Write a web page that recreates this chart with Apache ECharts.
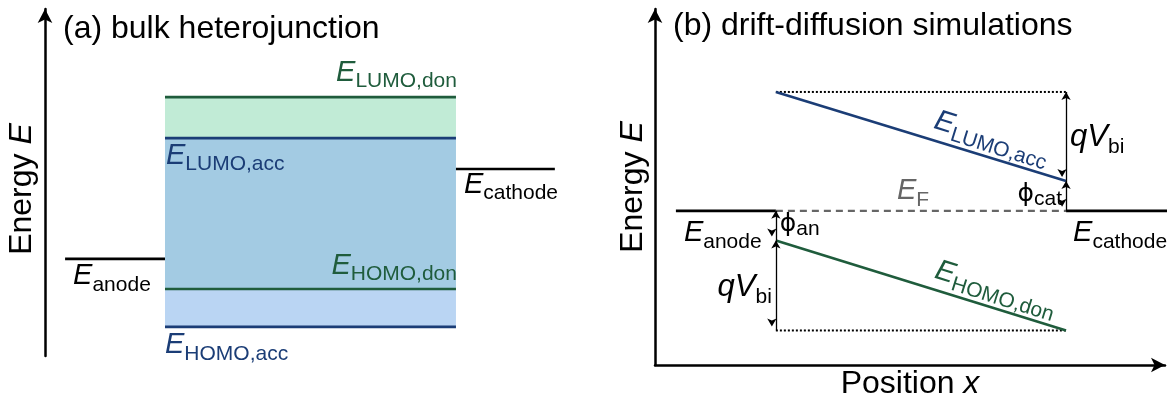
<!DOCTYPE html>
<html><head><meta charset="utf-8">
<script src="https://cdn.jsdelivr.net/npm/echarts@6/dist/echarts.min.js"></script>
<style>html,body{margin:0;padding:0;background:#fff}#c{width:1172px;height:405px}</style>
</head><body><div id="c"></div>
<script>
// ---------- Panel (a): bulk heterojunction (arbitrary energy units) ----------
const aLevelNames = ['LUMO,don', 'LUMO,acc', 'HOMO,don', 'HOMO,acc'];
const aLevelE = [7.46, 6.28, 1.93, 0.84];
const aBulkX = [2.33, 7.98];
const aAnodeX = [0.39, 2.33];
const aAnodeE = 2.80;
const aCathodeX = [7.98, 9.90];
const aCathodeE = 5.39;

// ---------- Panel (b): drift-diffusion simulations ----------
const bAnodeX = [0.41, 2.37];
const bDeviceX = [2.37, 8.06];
const bCathodeX = [8.06, 10.06];
const bFermiE = 4.33;
const bLumoE = [7.67, 5.17];
const bHomoE = [3.50, 0.97];

// label anchor points (panel b, along sloped bands)
const bLumoLabelAt = [6.49, 5.86];
const bHomoLabelAt = [6.57, 1.63];
const bFermiLabelX = 5.06;

const FONT = '"Liberation Sans", Arial, sans-serif';
const GREEN = '#1f5c3c', BLUE = '#1b3d76';
const FILL_GREEN = '#c1ebd6', FILL_BLUE = '#a3cbe3', FILL_LBLUE = '#bad5f3';

function seg(g, xs, ys, color, width, type) {
  return { type: 'line', xAxisIndex: g, yAxisIndex: g, data: [[xs[0], ys[0]], [xs[1], ys[1]]],
    symbol: 'none', showSymbol: false, clip: false, silent: true, animation: false, z: 3,
    lineStyle: { color, width, type: type || 'solid', cap: 'butt' } };
}
const rich = {
  e: { fontSize: 29, fontStyle: 'italic', fontFamily: FONT, verticalAlign: 'bottom', padding: [0, 0, 5, 0], textBorderWidth: 0 },
  q: { fontSize: 31, fontStyle: 'italic', fontFamily: FONT, verticalAlign: 'bottom', padding: [0, 0, 5, 0], textBorderWidth: 0 },
  s: { fontSize: 21, fontFamily: FONT, verticalAlign: 'bottom', textBorderWidth: 0 },
  p: { fontSize: 25, fontFamily: 'DejaVu Sans, ' + FONT, verticalAlign: 'bottom', padding: [0, 0, 3, 0], textBorderWidth: 0 }
};
function lab(x, y, text, color, align, vAlign, offset, rotate) {
  return { value: [x, y], label: { show: true, position: 'inside', formatter: text, color,
    textBorderWidth: 0, textBorderColor: 'transparent', opacity: 1,
    align, verticalAlign: vAlign, offset, rotate: rotate || 0, rich } };
}
function labels(g, items) {
  return { type: 'scatter', xAxisIndex: g, yAxisIndex: g, symbolSize: 0, silent: true,
    animation: false, clip: false, z: 5, data: items,
    itemStyle: { opacity: 1 },
    label: { show: true, fontFamily: FONT, textBorderWidth: 0, rich } };
}
const E = n => '{e|E}{s|' + n + '}';

const axisArrow = (show) => ({ show, onZero: false, symbol: ['none', 'arrow'], symbolSize: [11, 14],
  lineStyle: { color: '#000', width: 2.5 } });
const nameStyle = { fontSize: 32, color: '#000', fontFamily: FONT,
  rich: { n: { fontSize: 32, fontFamily: FONT }, i: { fontSize: 32, fontStyle: 'italic', fontFamily: FONT } } };

const option = {
  animation: false,
  backgroundColor: '#fff',
  title: [
    { text: '(a) bulk heterojunction', left: 58, top: 8, textStyle: { fontSize: 32, fontWeight: 'normal', color: '#000', fontFamily: FONT } },
    { text: '(b) drift-diffusion simulations', left: 668, top: 5, textStyle: { fontSize: 32, fontWeight: 'normal', color: '#000', fontFamily: FONT } }
  ],
  grid: [
    { left: 45, top: 9, width: 515, height: 347 },
    { left: 655, top: 9, width: 510, height: 360 }
  ],
  xAxis: [
    { gridIndex: 0, type: 'value', min: 0, max: 10, show: false },
    { gridIndex: 1, type: 'value', min: 0, max: 10, axisLine: axisArrow(true), axisTick: { show: false },
      axisLabel: { show: false }, splitLine: { show: false },
      name: '{n|Position }{i|x}', nameLocation: 'middle', nameGap: 3, nameTextStyle: nameStyle }
  ],
  yAxis: [
    { gridIndex: 0, type: 'value', min: 0, max: 10, axisLine: axisArrow(true), axisTick: { show: false },
      axisLabel: { show: false }, splitLine: { show: false },
      name: '{n|Energy }{i|E}', nameLocation: 'middle', nameGap: 7, nameRotate: 90,
      nameTextStyle: Object.assign({}, nameStyle, { padding: [0, 13, 0, 0] }) },
    { gridIndex: 1, type: 'value', min: 0, max: 10, axisLine: axisArrow(true), axisTick: { show: false },
      axisLabel: { show: false }, splitLine: { show: false },
      name: '{n|Energy }{i|E}', nameLocation: 'middle', nameGap: 6, nameRotate: 90, nameTextStyle: nameStyle }
  ],
  series: [
    // panel (a) band fills
    { type: 'line', xAxisIndex: 0, yAxisIndex: 0, data: [[aBulkX[0], aLevelE[0]]], symbol: 'none', silent: true, z: 1,
      lineStyle: { opacity: 0 },
      markArea: { silent: true, data: [
        [{ xAxis: aBulkX[0], yAxis: aLevelE[0], itemStyle: { color: FILL_GREEN } }, { xAxis: aBulkX[1], yAxis: aLevelE[1] }],
        [{ xAxis: aBulkX[0], yAxis: aLevelE[1], itemStyle: { color: FILL_BLUE } }, { xAxis: aBulkX[1], yAxis: aLevelE[2] }],
        [{ xAxis: aBulkX[0], yAxis: aLevelE[2], itemStyle: { color: FILL_LBLUE } }, { xAxis: aBulkX[1], yAxis: aLevelE[3] }]
      ] } },
    seg(0, aBulkX, [aLevelE[0], aLevelE[0]], GREEN, 2.6),
    seg(0, aBulkX, [aLevelE[1], aLevelE[1]], BLUE, 2.6),
    seg(0, aBulkX, [aLevelE[2], aLevelE[2]], GREEN, 2.6),
    seg(0, aBulkX, [aLevelE[3], aLevelE[3]], BLUE, 2.6),
    seg(0, aAnodeX, [aAnodeE, aAnodeE], '#000', 2.6),
    seg(0, aCathodeX, [aCathodeE, aCathodeE], '#000', 2.6),
    labels(0, [
      lab(aBulkX[1], aLevelE[0], E(aLevelNames[0]), GREEN, 'right', 'bottom', [1, -5]),
      lab(aBulkX[0], aLevelE[1], E(aLevelNames[1]), BLUE, 'left', 'top', [1, 3]),
      lab(aBulkX[1], aLevelE[2], E(aLevelNames[2]), GREEN, 'right', 'bottom', [1, -4]),
      lab(aBulkX[0], aLevelE[3], E(aLevelNames[3]), BLUE, 'left', 'top', [0, 4]),
      lab(aAnodeX[0], aAnodeE, E('anode'), '#000', 'left', 'top', [8, 3]),
      lab(aCathodeX[0], aCathodeE, E('cathode'), '#000', 'left', 'top', [8, 1])
    ]),
    // panel (b)
    seg(1, bAnodeX, [bFermiE, bFermiE], '#000', 2.6),
    seg(1, bCathodeX, [bFermiE, bFermiE], '#000', 2.6),
    seg(1, bDeviceX, [bFermiE, bFermiE], '#666', 2.2, [7, 5]),
    seg(1, bDeviceX, [bLumoE[0], bLumoE[0]], '#000', 2, 'dotted'),
    seg(1, bDeviceX, [bHomoE[1], bHomoE[1]], '#000', 2, 'dotted'),
    seg(1, bDeviceX, bLumoE, BLUE, 2.6),
    seg(1, bDeviceX, bHomoE, GREEN, 2.6),
    { type: 'line', xAxisIndex: 1, yAxisIndex: 1, data: [], silent: true, z: 4,
      markLine: { silent: true, animation: false, symbol: ['arrow', 'arrow'], symbolSize: [7, 8], symbolOffset: [0, 4],
        label: { show: false }, lineStyle: { color: '#000', width: 1.3, type: 'solid' },
        emphasis: { disabled: true },
        data: [
          [{ coord: [bDeviceX[1], bLumoE[0]] }, { coord: [bDeviceX[1], bLumoE[1]] }],
          [{ coord: [bDeviceX[1], bLumoE[1]] }, { coord: [bDeviceX[1], bFermiE] }],
          [{ coord: [bDeviceX[0], bFermiE] }, { coord: [bDeviceX[0], bHomoE[0]] }],
          [{ coord: [bDeviceX[0], bHomoE[0]] }, { coord: [bDeviceX[0], bHomoE[1]] }]
        ] } },
    labels(1, [
      lab(bLumoLabelAt[0], bLumoLabelAt[1], E('LUMO,acc'), BLUE, 'center', 'bottom', [0, 0], -17.3),
      lab(bHomoLabelAt[0], bHomoLabelAt[1], E('HOMO,don'), GREEN, 'center', 'bottom', [0, 0], -17.3),
      lab(bFermiLabelX, bFermiE, E('F'), '#666', 'center', 'bottom', [0, 0]),
      lab(bAnodeX[0], bFermiE, E('anode'), '#000', 'left', 'top', [8, 8]),
      lab(bCathodeX[0], bFermiE, E('cathode'), '#000', 'left', 'top', [7, 8]),
      lab(bDeviceX[1], (bLumoE[0] + bLumoE[1]) / 2, '{q|qV}{s|bi}', '#000', 'left', 'middle', [4, 3]),
      lab(bDeviceX[1], (bLumoE[1] + bFermiE) / 2, '{p|ϕ}{s|cat}', '#000', 'right', 'middle', [-4, 0]),
      lab(bDeviceX[0], (bFermiE + bHomoE[0]) / 2, '{p|ϕ}{s|an}', '#000', 'left', 'middle', [4, 0]),
      lab(bDeviceX[0], (bHomoE[0] + bHomoE[1]) / 2, '{q|qV}{s|bi}', '#000', 'right', 'middle', [-4, 4])
    ])
  ]
};
const chart = echarts.init(document.getElementById('c'), null, { renderer: 'canvas' });
chart.setOption(option);
</script></body></html>
